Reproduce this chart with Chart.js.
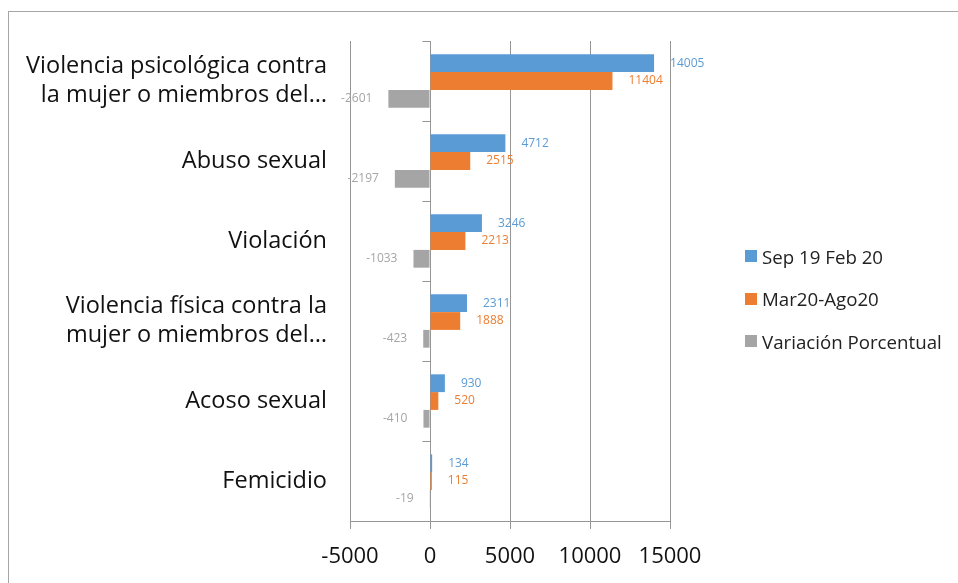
<!DOCTYPE html>
<html>
<head>
<meta charset="utf-8">
<script src="https://cdn.jsdelivr.net/npm/chart.js@4"></script>
<style>
  html, body { margin: 0; padding: 0; background: #fff; overflow: hidden; }
  #frame { position: absolute; left: 8px; top: 11px; width: 960px; height: 600px; border: 1px solid #a6a6a6; }
  #chart { position: absolute; left: 0; top: 0; }
  #legend { position: absolute; left: 736px; top: 223px; font-family: 'Open Sans', sans-serif; font-size: 18.7px; color: #222; }
  .item { height: 42.5px; display: flex; align-items: center; white-space: nowrap; }
  .box { width: 12px; height: 12px; margin-right: 5px; }
</style>
</head>
<body>
<div id="frame">
  <canvas id="chart" width="949" height="571"></canvas>
  <div id="legend"></div>
</div>
<script>
const categories = [
    ['Violencia psicológica contra', 'la mujer o miembros del…'],
    'Abuso sexual',
    'Violación',
    ['Violencia física contra la', 'mujer o miembros del…'],
    'Acoso sexual',
    'Femicidio'
];
const seriesNames = ['Sep 19 Feb 20', 'Mar20-Ago20', 'Variación Porcentual'];
const sep19Feb20 = [14005, 4712, 3246, 2311, 930, 134];
const mar20Ago20 = [11404, 2515, 2213, 1888, 520, 115];
const variacion = [-2601, -2197, -1033, -423, -410, -19];
const xTicks = [-5000, 0, 5000, 10000, 15000];

const colors = ['#5b9bd5', '#ed7d31', '#a5a5a5'];
const gridColor = '#969696';
const FONT = "'Open Sans', sans-serif";

// value labels next to each bar end
const barLabels = {
    id: 'barLabels',
    afterDatasetsDraw(chart) {
        const ctx = chart.ctx;
        ctx.save();
        ctx.font = '12px ' + FONT;
        ctx.textBaseline = 'middle';
        chart.data.datasets.forEach((ds, i) => {
            const meta = chart.getDatasetMeta(i);
            meta.data.forEach((bar, j) => {
                const v = ds.data[j];
                ctx.fillStyle = colors[i];
                if (v >= 0) {
                    ctx.textAlign = 'left';
                    ctx.fillText(String(v), bar.x + 16, bar.y);
                } else {
                    ctx.textAlign = 'right';
                    ctx.fillText(String(v), bar.x - 16, bar.y);
                }
            });
        });
        ctx.restore();
    }
};

// small category tick marks on the zero line
const zeroAxisTicks = {
    id: 'zeroAxisTicks',
    afterDraw(chart) {
        const x = chart.scales.x, y = chart.scales.y;
        const ctx = chart.ctx;
        const x0 = Math.round(x.getPixelForValue(0)) + 0.5;
        const n = categories.length;
        ctx.save();
        ctx.strokeStyle = gridColor;
        ctx.lineWidth = 1;
        ctx.beginPath();
        for (let i = 0; i <= n; i++) {
            const py = Math.round(y.top + i * (y.bottom - y.top) / n) + 0.5;
            ctx.moveTo(x0 - 8, py);
            ctx.lineTo(x0, py);
        }
        ctx.stroke();
        ctx.restore();
    }
};

const ctx = document.getElementById('chart').getContext('2d');
const chart = new Chart(ctx, {
    type: 'bar',
    data: {
        labels: categories,
        datasets: [
            { label: seriesNames[0], data: sep19Feb20, backgroundColor: colors[0] },
            { label: seriesNames[1], data: mar20Ago20, backgroundColor: colors[1] },
            { label: seriesNames[2], data: variacion, backgroundColor: colors[2] }
        ]
    },
    options: {
        indexAxis: 'y',
        responsive: false,
        animation: false,
        categoryPercentage: 0.667,
        barPercentage: 1.0,
        layout: { padding: { left: 0, right: 288, top: 29, bottom: 15 } },
        plugins: {
            legend: { display: false },
            tooltip: { enabled: false }
        },
        scales: {
            x: {
                min: xTicks[0],
                max: xTicks[xTicks.length - 1],
                afterBuildTicks: (scale) => { scale.ticks = xTicks.map(v => ({ value: v })); },
                afterFit: (scale) => { scale.height = 47; scale.paddingLeft = 0; scale.paddingRight = 0; },
                grid: { color: gridColor, tickLength: 8 },
                border: { color: gridColor },
                ticks: {
                    color: '#111',
                    padding: 15,
                    font: { family: FONT, size: 22 },
                    callback: (v) => String(v)
                }
            },
            y: {
                grid: { display: false, drawTicks: false },
                border: { display: false },
                afterFit: (scale) => { scale.width = 341; scale.paddingTop = 0; scale.paddingBottom = 0; },
                ticks: {
                    color: '#111',
                    padding: 23,
                    font: { family: FONT, size: 23.5, lineHeight: 1.234 }
                }
            }
        }
    },
    plugins: [barLabels, zeroAxisTicks]
});

// legend
const legend = document.getElementById('legend');
seriesNames.forEach((name, i) => {
    const item = document.createElement('div');
    item.className = 'item';
    const box = document.createElement('span');
    box.className = 'box';
    box.style.background = colors[i];
    const txt = document.createElement('span');
    txt.textContent = name;
    item.appendChild(box);
    item.appendChild(txt);
    legend.appendChild(item);
});
</script>
</body>
</html>
